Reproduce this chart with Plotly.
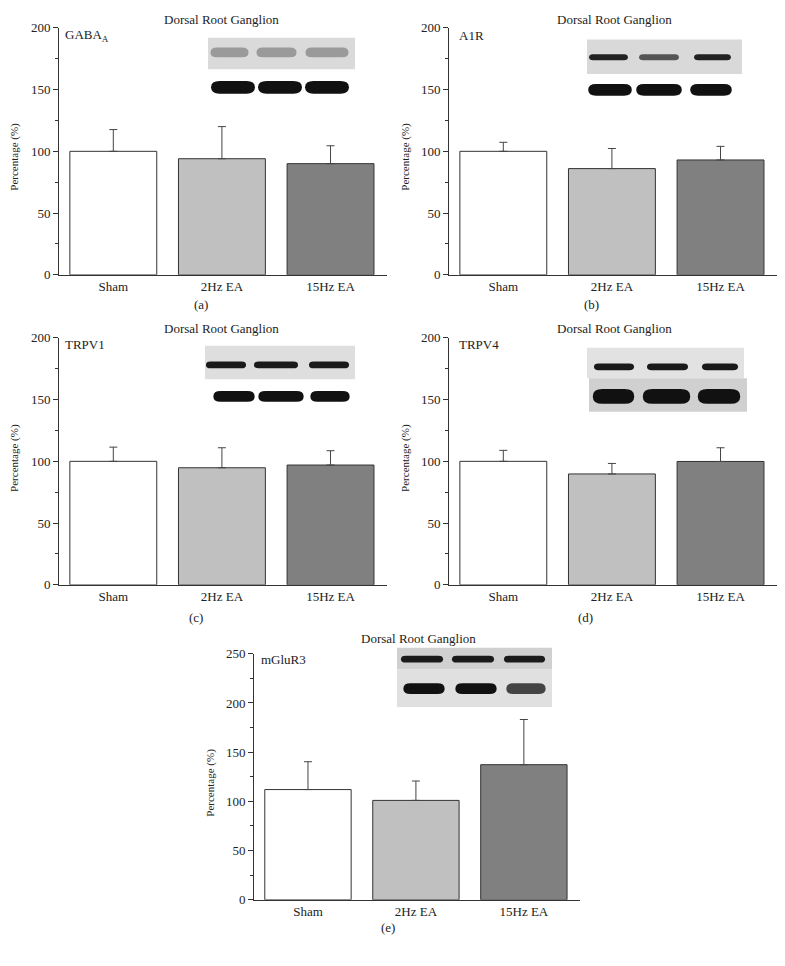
import plotly.graph_objects as go

# ---------------- data ----------------
categories = ["Sham", "2Hz EA", "15Hz EA"]
panel_labels = ["GABA<sub>A</sub>", "A1R", "TRPV1", "TRPV4", "mGluR3"]
captions = ["(a)", "(b)", "(c)", "(d)", "(e)"]
title_text = "Dorsal Root Ganglion"

gaba_mean = [100, 94, 90]
gaba_err_top = [117.6, 120, 104.5]
a1r_mean = [100, 86, 93]
a1r_err_top = [107.3, 102.3, 104]
trpv1_mean = [100, 94.8, 97]
trpv1_err_top = [111.5, 111, 108.6]
trpv4_mean = [100, 89.8, 99.9]
trpv4_err_top = [108.9, 98.3, 111]
mglur3_mean = [112, 101, 137.3]
mglur3_err_top = [140.3, 120.7, 183.2]

means = [gaba_mean, a1r_mean, trpv1_mean, trpv4_mean, mglur3_mean]
tops = [gaba_err_top, a1r_err_top, trpv1_err_top, trpv4_err_top, mglur3_err_top]
y_max = [200, 200, 200, 200, 250]

bar_colors = ["#ffffff", "#c0c0c0", "#808080"]

# ---------------- layout geometry ----------------
# The page body keeps its default 8px margin, so the figure is sized to
# fill the 785x966 window exactly and page pixels are mapped accordingly.
PAGE_W, PAGE_H, OFF = 785, 966, 8
W, H = PAGE_W - 2 * OFF, PAGE_H - 2 * OFF
FONT = "Liberation Serif, Times New Roman, serif"
AX = "#333333"
TXT = "#222222"

def fx(px):
    return (px - OFF) / W

def fy(py):
    return 1 - (py - OFF) / H

# page-pixel spans of each plot area: x0, x1, y_top, y_bottom
boxes = [
    (59, 387, 21, 272),
    (449, 777, 21, 272),
    (59, 387, 336, 587),
    (449, 777, 336, 587),
    (254, 580, 657, 907),
]

fig = go.Figure()
layout = dict(
    width=W, height=H,
    margin=dict(l=0, r=0, t=0, b=0),
    paper_bgcolor="white", plot_bgcolor="white",
    showlegend=False,
    font=dict(family=FONT, size=13, color=TXT),
)
annotations = []
shapes = []

for i in range(5):
    n = "" if i == 0 else str(i + 1)
    x0, x1, yt, yb = boxes[i]
    fig.add_trace(go.Bar(
        x=[0, 1, 2], y=means[i],
        width=0.8,
        marker=dict(color=bar_colors, line=dict(color=AX, width=1)),
        error_y=dict(type="data", symmetric=False,
                     array=[t - m for t, m in zip(tops[i], means[i])],
                     arrayminus=[0, 0, 0], color="#444", thickness=1, width=4),
        xaxis="x" + n, yaxis="y" + n, hoverinfo="skip",
    ))
    layout["xaxis" + n] = dict(
        domain=[fx(x0), fx(x1)], anchor="y" + n, range=[-0.5, 2.52],
        tickmode="array", tickvals=[0, 1, 2], ticktext=categories,
        showline=True, linecolor=AX, linewidth=1, ticks="", showgrid=False,
        zeroline=False, tickfont=dict(size=13, family=FONT, color=TXT),
        fixedrange=True,
    )
    layout["yaxis" + n] = dict(
        domain=[fy(yb), fy(yt)], anchor="x" + n, range=[0, y_max[i]],
        dtick=50, showline=True, linecolor=AX, linewidth=1,
        ticks="outside", ticklen=5, tickcolor=AX, showgrid=False, zeroline=False,
        minor=dict(dtick=25, ticks="outside", ticklen=3, tickcolor=AX),
        tickfont=dict(size=13, family=FONT, color=TXT),
        fixedrange=True,
    )

# text positions (page pixels)
titles_pos = [(221, 13), (614, 13), (221, 327), (614, 327), (418, 642)]
label_pos = [(63, 29), (457, 29), (63, 343), (457, 343), (259, 663)]
ytitle_pos = [(15, 152), (406, 152), (15, 458), (406, 458), (211, 788)]
caption_pos = [(201, 302), (591, 302), (196, 620), (585, 620), (388, 935)]

def ann(pos, text, size=13, xanchor="center", angle=0):
    annotations.append(dict(x=fx(pos[0]), y=fy(pos[1]), xref="paper", yref="paper",
                            xanchor=xanchor, yanchor="middle", text=text, showarrow=False,
                            textangle=angle, font=dict(size=size, family=FONT, color=TXT)))

for i in range(5):
    ann(titles_pos[i], title_text)
    ann(label_pos[i], panel_labels[i], xanchor="left")
    ann(ytitle_pos[i], "Percentage (%)", size=11, angle=-90)
    ann(caption_pos[i], captions[i])

# ---------------- western blot insets (decorative) ----------------
def rect(px0, py0, px1, py1, color):
    shapes.append(dict(type="rect", xref="paper", yref="paper",
                       x0=fx(px0), x1=fx(px1), y0=fy(py1), y1=fy(py0),
                       fillcolor=color, line=dict(width=0), layer="above"))

def band(px0, py0, px1, py1, color):
    r = (py1 - py0) / 2.0
    ym = (py0 + py1) / 2.0
    p = (f"M {fx(px0 + r)} {fy(py0)} L {fx(px1 - r)} {fy(py0)} "
         f"Q {fx(px1 + r * 0.3)} {fy(py0)} {fx(px1 + r * 0.3)} {fy(ym)} "
         f"Q {fx(px1 + r * 0.3)} {fy(py1)} {fx(px1 - r)} {fy(py1)} "
         f"L {fx(px0 + r)} {fy(py1)} "
         f"Q {fx(px0 - r * 0.3)} {fy(py1)} {fx(px0 - r * 0.3)} {fy(ym)} "
         f"Q {fx(px0 - r * 0.3)} {fy(py0)} {fx(px0 + r)} {fy(py0)} Z")
    shapes.append(dict(type="path", xref="paper", yref="paper", path=p,
                       fillcolor=color, line=dict(width=0), layer="above"))

# (a)
rect(208, 31, 355, 63, "#dadada")
for a, b in [(212, 247), (258, 295), (307, 347)]:
    band(a, 41, b, 51, "#9a9a9a")
for a, b in [(213, 253), (260, 300), (307, 347)]:
    band(a, 75, b, 88, "#111111")
# (b)
rect(587, 33, 742, 68, "#d9d9d9")
for a, b, c in [(590, 627, "#222"), (640, 678, "#555"), (695, 730, "#222")]:
    band(a, 48, b, 54, c)
for a, b in [(590, 630), (638, 680), (692, 730)]:
    band(a, 78, b, 90, "#111111")
# (c)
rect(205, 344, 355, 378, "#dedede")
for a, b in [(207, 245), (255, 297), (310, 348)]:
    band(a, 360, b, 367, "#1a1a1a")
for a, b in [(215, 253), (260, 302), (312, 348)]:
    band(a, 390, b, 401, "#111111")
# (d)
rect(587, 346, 744, 377, "#e2e2e2")
rect(589, 377, 747, 411, "#d0d0d0")
for a, b in [(595, 633), (648, 687), (703, 737)]:
    band(a, 362, b, 369, "#1a1a1a")
for a, b in [(595, 632), (645, 688), (700, 738)]:
    band(a, 388, b, 403, "#111111")
# (e)
rect(397, 651, 552, 673, "#d0d0d0")
rect(397, 673, 552, 711, "#e0e0e0")
for a, b in [(402, 442), (453, 493), (505, 544)]:
    band(a, 659, b, 666, "#1a1a1a")
for a, b, c in [(405, 443, "#111"), (457, 495, "#111"), (508, 544, "#444")]:
    band(a, 687, b, 698, c)

layout["annotations"] = annotations
layout["shapes"] = shapes
fig.update_layout(**layout)
fig.write_html("out.html", config={"displayModeBar": False, "staticPlot": True})
